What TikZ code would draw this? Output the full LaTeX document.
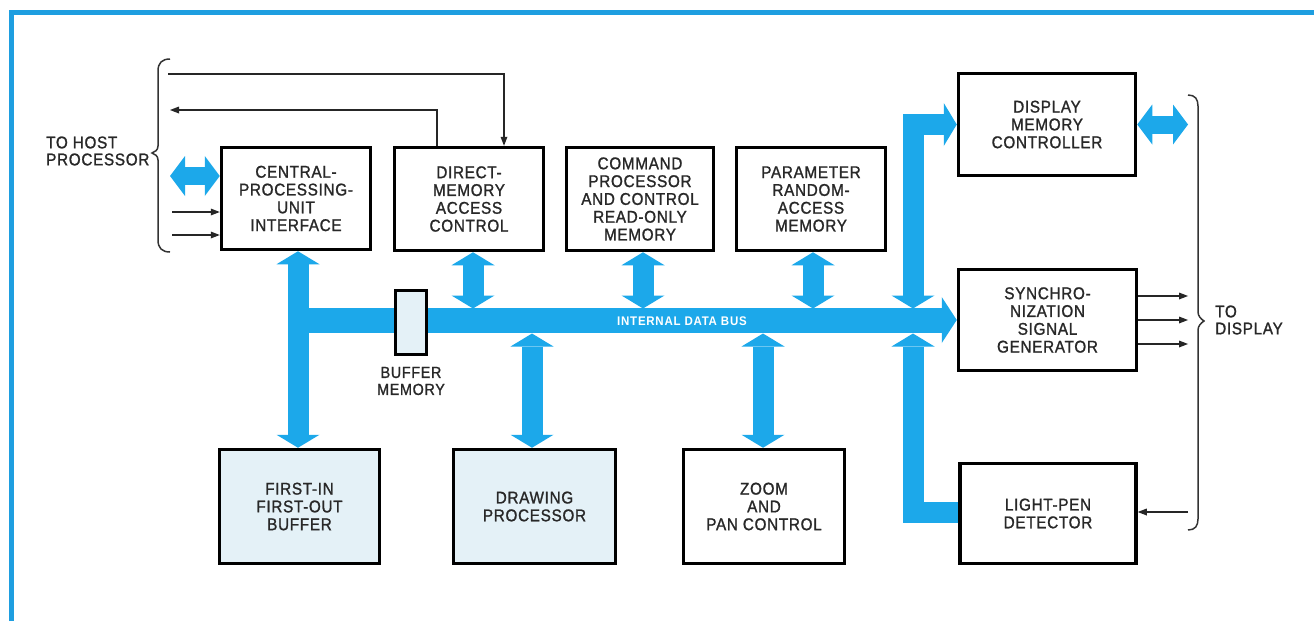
\documentclass[tikz,border=0pt]{standalone}
\usepackage{fontspec}
\setmainfont{Liberation Sans}[FakeStretch=0.9,LetterSpace=4,FakeBold=1.2]
\newfontfamily\busfont{Liberation Sans Bold}[FakeStretch=0.92,LetterSpace=6]
\usetikzlibrary{arrows.meta}
\definecolor{busblue}{RGB}{28,168,234}
\definecolor{frameblue}{RGB}{30,158,224}
\definecolor{lightfill}{RGB}{228,241,247}
\definecolor{ink}{RGB}{40,40,40}
\tikzset{
  bh/.tip={Triangle[length=13pt,width=43pt,line width=0pt]},
  sh/.tip={Triangle[length=15pt,width=40pt,line width=0pt]},
  ah/.tip={Triangle[length=15pt,width=46pt,line width=0pt]},
  st/.tip={Triangle[length=9pt,width=7pt,line width=0pt]},
}
\begin{document}
\begin{tikzpicture}[x=1pt,y=-1pt,
  unit/.style={draw=black, line width=3.5pt, align=center, inner sep=0pt,
     font=\fontsize{17}{17.8}\selectfont, text=ink},
  shadedunit/.style={unit, fill=lightfill},
  lbl/.style={font=\fontsize{17}{17}\selectfont, text=ink, inner sep=0pt},
  fatbus/.style={draw=busblue, line width=25pt, line join=miter},
  fatline/.style={draw=busblue, line width=21pt, line join=miter},
  hostbus/.style={draw=busblue, line width=18pt},
  sig/.style={draw=black!85, line width=1.3pt},
  bracestyle/.style={draw=black!80, line width=1.5pt},
]
\useasboundingbox (0,0) rectangle (1314,621);
\fill[white] (0,0) rectangle (1314,621);
% frame
\draw[frameblue, line width=5pt, line join=miter] (11.5,621) -- (11.5,12.5) -- (1314,12.5);

% boxes
\node[unit, minimum width=149pt, minimum height=102pt] (cpu) at (296,198.5) {CENTRAL-\\PROCESSING-\\UNIT\\INTERFACE};
\node[unit, minimum width=149pt, minimum height=103pt] (dma) at (469,199) {DIRECT-\\MEMORY\\ACCESS\\CONTROL};
\node[unit, minimum width=147pt, minimum height=103pt] (cmd) at (640,199) {COMMAND\\PROCESSOR\\AND CONTROL\\READ-ONLY\\MEMORY};
\node[unit, minimum width=149pt, minimum height=103pt] (par) at (811,199) {PARAMETER\\RANDOM-\\ACCESS\\MEMORY};
\node[unit, minimum width=177pt, minimum height=102pt] (dmc) at (1047,124.5) {DISPLAY\\MEMORY\\CONTROLLER};
\node[unit, minimum width=178pt, minimum height=101pt] (sync) at (1047.5,320) {SYNCHRO-\\NIZATION\\SIGNAL\\GENERATOR};
\node[unit, minimum width=176pt, minimum height=100pt] (lpen) at (1048,513.5) {LIGHT-PEN\\DETECTOR};
\node[shadedunit, minimum width=160pt, minimum height=114pt] (fifo) at (299.5,506.5) {FIRST-IN\\FIRST-OUT\\BUFFER};
\node[shadedunit, minimum width=162pt, minimum height=114pt] (drw) at (534.5,506.5) {DRAWING\\PROCESSOR};
\node[unit, minimum width=161pt, minimum height=114pt] (zoom) at (764,506.5) {ZOOM\\AND\\PAN CONTROL};

% helper coordinates
\coordinate (busL) at (298,320);
\coordinate (busT) at (0,308.5);
\coordinate (busB) at (0,333.5);
\coordinate (rv) at (913,0);
\coordinate (hostL) at (170,176);
\coordinate (hA) at (168,74);
\coordinate (hB) at (170,110);
\coordinate (hC) at (172,212);
\coordinate (hD) at (172,235);
\coordinate (dR) at (1188,124.5);
\coordinate (d1) at (1188,296);
\coordinate (d2) at (1188,320);
\coordinate (d3) at (1188,344);
\coordinate (lp) at (1188,512);

% internal data bus
\draw[fatbus, -ah] (busL) -- (sync.west);
\node[font=\busfont\fontsize{12.5}{13}\selectfont, text=white, inner sep=0pt] (idb) at (682,321) {INTERNAL DATA BUS};

% buffer memory
\node[draw=black, line width=2.6pt, fill=lightfill, minimum width=31pt, minimum height=64pt, inner sep=0pt] (buf) at (411,322.5) {};
\node[lbl, align=center, font=\fontsize{16}{17}\selectfont] (bufl) at (411,381) {BUFFER\\MEMORY};

% blue vertical arrows
\draw[fatline, bh-bh] ([xshift=2pt]cpu.south) -- (fifo.north -| busL);
\draw[fatline, bh-bh] ([xshift=4pt]dma.south) -- ([xshift=4pt]dma.south |- busT);
\draw[fatline, bh-bh] ([xshift=3pt]cmd.south) -- ([xshift=3pt]cmd.south |- busT);
\draw[fatline, bh-bh] ([xshift=2pt]par.south) -- ([xshift=2pt]par.south |- busT);
\draw[fatline, bh-bh] ([xshift=-2.5pt]drw.north |- busB) -- ([xshift=-2.5pt]drw.north);
\draw[fatline, bh-bh] ([xshift=-1pt]zoom.north |- busB) -- ([xshift=-1pt]zoom.north);
\draw[fatline, bh-bh] (rv |- busT) -- (rv |- dmc.west) -- (dmc.west);
\draw[fatline, -bh] (lpen.west |- 0,512.5) -- (rv |- 0,512.5) -- (rv |- busB);

% host side
\draw[hostbus, sh-sh] (hostL) -- (cpu.west |- hostL);
\draw[hostbus, sh-sh] (dmc.east) -- (dR);
\draw[sig, -st] (hA) -| ([xshift=35pt]dma.north);
\draw[sig, -st] ([xshift=-32pt]dma.north) |- (hB);
\draw[sig, -st] (hC) -- (cpu.west |- hC);
\draw[sig, -st] (hD) -- (cpu.west |- hD);

% display side
\draw[sig, -st] (sync.east |- d1) -- (d1);
\draw[sig, -st] (sync.east |- d2) -- (d2);
\draw[sig, -st] (sync.east |- d3) -- (d3);
\draw[sig, -st] (lp) -- (lpen.east |- lp);

% braces
\draw[bracestyle] (170,59) .. controls (162,59) and (158,63) .. (158,71) -- (158,146)
  .. controls (158,150) and (155,152) .. (152,153) .. controls (155,154) and (158,156) .. (158,160)
  -- (158,240) .. controls (158,248) and (162,252) .. (170,252);
\draw[bracestyle] (1188,95) .. controls (1195,95) and (1198,99) .. (1198,106) -- (1198,312)
  .. controls (1198,316) and (1201,319) .. (1204,321) .. controls (1201,323) and (1198,326) .. (1198,330)
  -- (1198,519) .. controls (1198,526) and (1195,530) .. (1188,530);

% outside labels
\node[lbl, anchor=west, align=left] (host) at (46,151) {TO HOST\\PROCESSOR};
\node[lbl, anchor=west, align=left] (disp) at (1215,320) {TO\\DISPLAY};
\end{tikzpicture}
\end{document}
